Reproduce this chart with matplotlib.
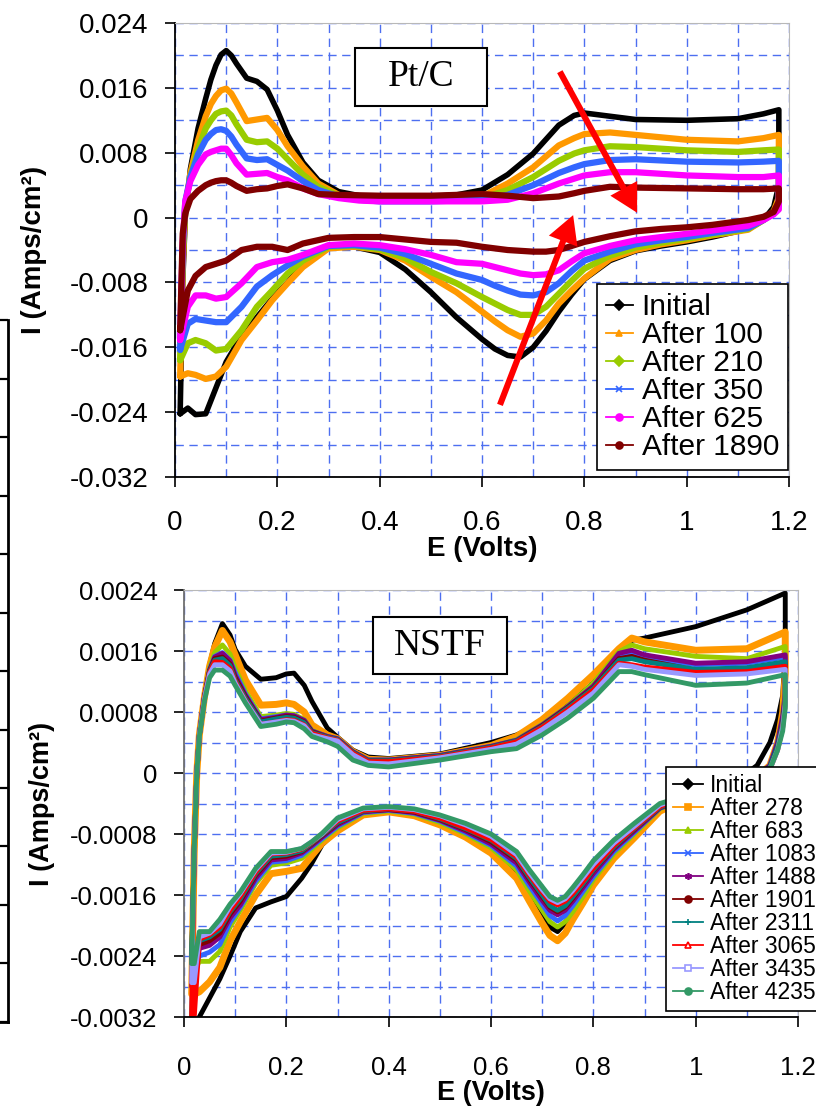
import numpy as np
import matplotlib.pyplot as plt
from matplotlib.lines import Line2D
from matplotlib.patches import Rectangle
from matplotlib.ticker import FuncFormatter, MultipleLocator

plt.rcParams['font.family'] = ['Liberation Sans', 'DejaVu Sans']
plt.rcParams['axes.unicode_minus'] = False

# ---------------- Pt/C (current in mA/cm2) ----------------
ptc_e_fwd = [0.01, 0.015, 0.02, 0.03, 0.045, 0.06, 0.07, 0.08, 0.09, 0.10, 0.11, 0.12, 0.14, 0.16, 0.18,
             0.20, 0.22, 0.25, 0.28, 0.32, 0.36, 0.40, 0.50, 0.55, 0.60, 0.65, 0.70, 0.75, 0.78, 0.80,
             0.85, 0.90, 1.00, 1.10, 1.15, 1.18]
ptc_e_rev = [1.18, 1.17, 1.15, 1.12, 1.05, 1.00, 0.95, 0.90, 0.85, 0.80, 0.775, 0.75, 0.725, 0.70, 0.675,
             0.65, 0.625, 0.60, 0.55, 0.50, 0.45, 0.40, 0.35, 0.30, 0.25, 0.22, 0.19, 0.16, 0.13, 0.10,
             0.08, 0.06, 0.04, 0.025, 0.01]

ptc_initial_fwd = [-24.2, -8, 0, 6, 11, 14.7, 17.0, 18.8, 20.1, 20.6, 20.0, 19.0, 17.2, 16.8, 15.8,
                   13.2, 10.2, 6.8, 4.6, 3.2, 2.7, 2.6, 2.6, 2.8, 3.4, 5.3, 7.9, 11.4, 12.6, 12.9,
                   12.5, 12.1, 12.0, 12.2, 12.8, 13.3]
ptc_initial_rev = [4.0, 1.3, -0.3, -1.4, -2.4, -3.0, -3.5, -4.1, -5.3, -7.6, -9.5, -11.6, -14.0, -16.0, -17.2,
                   -17.0, -16.2, -15.0, -12.3, -9.2, -6.4, -4.3, -3.6, -3.7, -5.8, -8.0, -10.0, -12.3, -14.6,
                   -17.8, -21.0, -24.2, -24.3, -23.5, -24.2]
ptc_100_fwd = [-19.6, -6, 1, 5.5, 9.5, 12.5, 14.0, 15.0, 15.7, 15.9, 15.3, 14.2, 11.9, 12.1, 12.3,
               10.8, 8.8, 6.3, 4.2, 2.8, 2.4, 2.2, 2.2, 2.3, 2.6, 4.2, 6.2, 8.9, 9.8, 10.3,
               10.5, 10.2, 9.6, 9.4, 9.8, 10.2]
ptc_100_rev = [2.5, 0.8, -0.3, -1.5, -2.2, -2.8, -3.3, -4.0, -5.1, -7.5, -9.0, -10.6, -12.7, -14.3, -14.7,
               -13.9, -12.8, -11.6, -9.2, -7.3, -5.3, -4.0, -3.6, -3.8, -6.1, -8.1, -10.2, -12.7, -15.1,
               -18.4, -19.6, -19.9, -19.4, -19.2, -19.6]
ptc_210_fwd = [-17.6, -5, 1.5, 5, 8.5, 11, 12.0, 12.8, 13.1, 13.2, 12.6, 11.5, 9.6, 9.3, 9.4,
               8.5, 7.2, 5.3, 3.8, 2.7, 2.3, 2.1, 2.1, 2.2, 2.4, 3.4, 5.0, 7.0, 7.9, 8.3,
               8.8, 8.7, 8.3, 8.1, 8.3, 8.4]
ptc_210_rev = [2.0, 0.6, -0.3, -1.4, -2.1, -2.6, -3.1, -3.7, -4.7, -6.3, -7.8, -9.4, -11.0, -12.0, -12.0,
               -11.4, -10.6, -9.8, -8.1, -6.7, -5.0, -3.9, -3.5, -3.6, -5.3, -6.9, -9.0, -11.0, -13.9,
               -16.2, -16.4, -15.5, -15.1, -15.5, -17.6]
ptc_350_fwd = [-16.3, -4, 2, 5, 7.8, 9.6, 10.3, 10.8, 10.9, 10.7, 10.0, 9.0, 7.3, 7.1, 7.2,
               6.5, 5.8, 4.5, 3.4, 2.6, 2.2, 2.0, 2.0, 2.1, 2.2, 2.8, 4.0, 5.5, 6.2, 6.6,
               7.1, 7.2, 6.9, 6.8, 6.9, 7.0]
ptc_350_rev = [1.5, 0.5, -0.3, -1.3, -1.9, -2.4, -2.8, -3.3, -4.2, -5.3, -6.6, -8.1, -9.2, -9.6, -9.5,
               -9.0, -8.4, -7.7, -6.9, -5.7, -4.5, -3.7, -3.4, -3.5, -4.8, -5.9, -7.1, -8.5, -11.0,
               -12.9, -12.9, -12.7, -12.5, -13.1, -16.3]
ptc_625_fwd = [-15.1, -3, 2, 4.5, 6.5, 7.8, 8.1, 8.3, 8.5, 8.5, 7.7, 6.7, 5.3, 5.4, 5.5,
               5.0, 4.6, 3.6, 2.9, 2.4, 2.1, 2.0, 2.0, 2.0, 2.0, 2.2, 3.0, 4.2, 4.8, 5.2,
               5.6, 5.6, 5.2, 5.0, 5.0, 5.2]
ptc_625_rev = [1.0, 0.4, -0.3, -1.0, -1.6, -2.0, -2.4, -2.8, -3.5, -4.4, -5.4, -6.5, -7.0, -7.1, -6.9,
               -6.5, -6.1, -5.7, -5.5, -4.6, -3.9, -3.4, -3.2, -3.4, -4.6, -5.2, -5.5, -6.1, -8.1,
               -9.8, -10.0, -9.6, -9.6, -11.0, -15.1]
ptc_1890_fwd = [-13.9, -2, 0.5, 2.3, 3.3, 4.0, 4.3, 4.5, 4.6, 4.6, 4.3, 3.9, 3.3, 3.5, 3.6,
                3.9, 4.1, 3.6, 2.9, 2.8, 2.75, 2.7, 2.7, 2.8, 2.9, 2.7, 2.4, 2.6, 3.0, 3.3,
                3.8, 3.7, 3.6, 3.5, 3.5, 3.6]
ptc_1890_rev = [2.0, 0.7, 0.1, -0.3, -0.9, -1.2, -1.4, -1.7, -2.3, -3.0, -3.5, -4.0, -4.2, -4.2, -4.1,
                -4.0, -3.8, -3.6, -3.1, -3.0, -2.7, -2.4, -2.4, -2.5, -3.2, -4.0, -3.6, -3.6, -4.0,
                -5.3, -5.7, -6.1, -7.2, -9.0, -13.9]

ptc_labels = ['Initial', 'After 100', 'After 210', 'After 350', 'After 625', 'After 1890']
ptc_fwd = [ptc_initial_fwd, ptc_100_fwd, ptc_210_fwd, ptc_350_fwd, ptc_625_fwd, ptc_1890_fwd]
ptc_rev = [ptc_initial_rev, ptc_100_rev, ptc_210_rev, ptc_350_rev, ptc_625_rev, ptc_1890_rev]
ptc_colors = ['black', '#FF9900', '#99CC00', '#3366FF', '#FF00FF', '#800000']
ptc_markers = ['D', '^', 'D', 'x', 'o', 'o']

# ---------------- NSTF (current in mA/cm2) ----------------
nstf_e_fwd = [0.015, 0.02, 0.025, 0.03, 0.04, 0.05, 0.06, 0.075, 0.09, 0.1, 0.12, 0.15, 0.18, 0.2, 0.215, 0.235,
              0.25, 0.28, 0.3, 0.33, 0.36, 0.4, 0.5, 0.6, 0.65, 0.7, 0.75, 0.8, 0.85, 0.875, 0.9, 1.0, 1.1, 1.175]
nstf_e_rev = [1.175, 1.17, 1.16, 1.145, 1.12, 1.08, 1.03, 0.97, 0.93, 0.88, 0.84, 0.8,
              0.78, 0.76, 0.745, 0.73, 0.715, 0.7, 0.675, 0.65,
              0.6, 0.55, 0.5, 0.45, 0.4, 0.35, 0.3, 0.27, 0.25, 0.23, 0.2, 0.17, 0.14, 0.11, 0.09, 0.07, 0.05,
              0.03, 0.02]

nstf_initial_fwd = [-3.3, -1.2, 0.0, 0.5, 1.0, 1.42, 1.7, 1.96, 1.81, 1.62, 1.4, 1.23, 1.25, 1.3, 1.31, 1.15,
                    0.94, 0.59, 0.47, 0.3, 0.21, 0.19, 0.25, 0.4, 0.5, 0.65, 0.89, 1.18, 1.55, 1.74, 1.77, 1.92,
                    2.14, 2.36]
nstf_initial_rev = [1.6, 1.02, 0.7, 0.4, 0.1, -0.1, -0.25, -0.38, -0.5, -0.85, -1.08, -1.42,
                    -1.6, -1.8, -1.97, -2.08, -2.02, -1.86, -1.58, -1.3,
                    -1.0, -0.83, -0.66, -0.55, -0.5, -0.55, -0.75, -0.94, -1.18, -1.38, -1.62, -1.69, -1.77,
                    -2.08, -2.4, -2.7, -2.95, -3.2, -3.35]
nstf_278_fwd = [-2.9, -1.0, 0.0, 0.5, 1.0, 1.4, 1.65, 1.87, 1.72, 1.55, 1.22, 0.89, 0.9, 0.92, 0.9, 0.8,
                0.63, 0.5, 0.45, 0.28, 0.18, 0.17, 0.23, 0.36, 0.48, 0.7, 0.98, 1.29, 1.63, 1.77, 1.72, 1.61,
                1.63, 1.85]
nstf_278_rev = [1.3, 0.8, 0.4, 0.1, -0.05, -0.15, -0.25, -0.38, -0.5, -0.85, -1.12, -1.47,
                -1.7, -1.92, -2.1, -2.2, -2.13, -1.97, -1.68, -1.38,
                -1.05, -0.84, -0.68, -0.56, -0.51, -0.55, -0.76, -0.92, -1.08, -1.25, -1.29, -1.32, -1.6,
                -1.95, -2.2, -2.55, -2.74, -2.87, -2.9]
nstf_683_fwd = [-2.6, -1.0, 0.0, 0.5, 1.0, 1.38, 1.58, 1.68, 1.56, 1.38, 1.08, 0.74, 0.76, 0.78, 0.77, 0.7,
                0.56, 0.48, 0.45, 0.28, 0.17, 0.17, 0.23, 0.35, 0.44, 0.64, 0.88, 1.18, 1.59, 1.68, 1.63, 1.53,
                1.50, 1.66]
nstf_683_rev = [1.1, 0.75, 0.4, 0.1, -0.05, -0.15, -0.25, -0.37, -0.47, -0.8, -1.06, -1.4,
                -1.62, -1.82, -1.95, -2.02, -1.95, -1.8, -1.55, -1.27,
                -0.98, -0.8, -0.65, -0.54, -0.5, -0.53, -0.72, -0.88, -1.0, -1.12, -1.18, -1.21, -1.45,
                -1.8, -2.02, -2.34, -2.47, -2.47, -2.6]
nstf_1083_fwd = [-2.5, -1.0, 0.0, 0.5, 1.0, 1.36, 1.53, 1.58, 1.48, 1.32, 1.04, 0.71, 0.74, 0.76, 0.75, 0.69,
                 0.55, 0.48, 0.45, 0.28, 0.17, 0.17, 0.23, 0.35, 0.43, 0.63, 0.87, 1.14, 1.55, 1.58, 1.52, 1.42,
                 1.44, 1.52]
nstf_1083_rev = [1.0, 0.7, 0.4, 0.1, -0.05, -0.15, -0.25, -0.36, -0.46, -0.78, -1.03, -1.36,
                 -1.55, -1.74, -1.87, -1.94, -1.87, -1.72, -1.48, -1.22,
                 -0.95, -0.78, -0.63, -0.53, -0.49, -0.52, -0.7, -0.86, -0.97, -1.08, -1.15, -1.17, -1.42,
                 -1.76, -1.96, -2.25, -2.35, -2.4, -2.5]
nstf_1488_fwd = [-2.8, -1.0, 0.0, 0.5, 1.0, 1.35, 1.52, 1.57, 1.47, 1.28, 1.02, 0.70, 0.73, 0.76, 0.75, 0.69,
                 0.55, 0.48, 0.45, 0.28, 0.17, 0.17, 0.23, 0.35, 0.43, 0.63, 0.87, 1.14, 1.57, 1.61, 1.55, 1.44,
                 1.46, 1.55]
nstf_1488_rev = [1.05, 0.75, 0.4, 0.1, -0.05, -0.15, -0.25, -0.36, -0.46, -0.76, -1.0, -1.32,
                 -1.5, -1.68, -1.8, -1.86, -1.8, -1.67, -1.43, -1.18,
                 -0.93, -0.76, -0.62, -0.52, -0.48, -0.51, -0.68, -0.84, -0.95, -1.05, -1.12, -1.14, -1.38,
                 -1.73, -1.9, -2.15, -2.26, -2.3, -2.8]
nstf_1901_fwd = [-2.5, -1.0, 0.0, 0.5, 1.0, 1.34, 1.5, 1.52, 1.43, 1.25, 1.0, 0.68, 0.72, 0.74, 0.73, 0.67,
                 0.54, 0.47, 0.44, 0.27, 0.16, 0.16, 0.22, 0.34, 0.42, 0.62, 0.86, 1.12, 1.50, 1.53, 1.48, 1.35,
                 1.37, 1.44]
nstf_1901_rev = [0.95, 0.65, 0.35, 0.08, -0.05, -0.15, -0.25, -0.35, -0.45, -0.74, -0.98, -1.28,
                 -1.46, -1.64, -1.76, -1.82, -1.76, -1.62, -1.39, -1.14,
                 -0.9, -0.74, -0.61, -0.51, -0.48, -0.5, -0.66, -0.82, -0.93, -1.03, -1.09, -1.11, -1.34,
                 -1.68, -1.85, -2.1, -2.2, -2.25, -2.5]
nstf_2311_fwd = [-2.4, -1.0, 0.0, 0.5, 1.0, 1.33, 1.48, 1.5, 1.41, 1.22, 0.98, 0.67, 0.71, 0.73, 0.72, 0.66,
                 0.53, 0.47, 0.44, 0.27, 0.16, 0.16, 0.22, 0.34, 0.42, 0.61, 0.85, 1.11, 1.48, 1.50, 1.46, 1.36,
                 1.38, 1.46]
nstf_2311_rev = [0.95, 0.65, 0.35, 0.08, -0.05, -0.15, -0.25, -0.35, -0.45, -0.73, -0.97, -1.27,
                 -1.45, -1.62, -1.74, -1.8, -1.74, -1.6, -1.37, -1.12,
                 -0.88, -0.73, -0.6, -0.5, -0.47, -0.5, -0.65, -0.81, -0.92, -1.02, -1.07, -1.09, -1.32,
                 -1.65, -1.82, -2.05, -2.15, -2.2, -2.4]
nstf_3065_fwd = [-3.2, -1.0, 0.0, 0.5, 1.0, 1.32, 1.46, 1.45, 1.37, 1.2, 0.95, 0.64, 0.67, 0.70, 0.69, 0.63,
                 0.52, 0.46, 0.43, 0.26, 0.15, 0.15, 0.21, 0.33, 0.41, 0.6, 0.83, 1.09, 1.44, 1.42, 1.39, 1.32,
                 1.33, 1.40]
nstf_3065_rev = [0.9, 0.6, 0.3, 0.05, -0.05, -0.15, -0.25, -0.34, -0.44, -0.72, -0.95, -1.25,
                 -1.42, -1.58, -1.68, -1.73, -1.68, -1.56, -1.34, -1.1,
                 -0.87, -0.72, -0.59, -0.5, -0.47, -0.49, -0.63, -0.8, -0.91, -1.0, -1.05, -1.06, -1.3,
                 -1.62, -1.8, -2.02, -2.12, -2.18, -3.2]
nstf_3435_fwd = [-2.75, -1.0, 0.0, 0.5, 0.98, 1.3, 1.42, 1.42, 1.34, 1.18, 0.94, 0.64, 0.67, 0.69, 0.68, 0.62,
                 0.5, 0.45, 0.42, 0.24, 0.13, 0.12, 0.2, 0.31, 0.38, 0.57, 0.8, 1.05, 1.42, 1.40, 1.36, 1.28,
                 1.30, 1.36]
nstf_3435_rev = [0.9, 0.6, 0.3, 0.05, -0.05, -0.15, -0.25, -0.33, -0.42, -0.7, -0.92, -1.2,
                 -1.37, -1.54, -1.65, -1.7, -1.65, -1.53, -1.31, -1.07,
                 -0.83, -0.68, -0.56, -0.48, -0.45, -0.47, -0.61, -0.8, -0.9, -0.99, -1.04, -1.05, -1.27,
                 -1.58, -1.75, -1.98, -2.1, -2.15, -2.75]
nstf_4235_fwd = [-2.5, -1.0, 0.0, 0.48, 0.95, 1.25, 1.35, 1.35, 1.27, 1.15, 0.92, 0.61, 0.64, 0.67, 0.66, 0.58,
                 0.48, 0.41, 0.35, 0.17, 0.1, 0.08, 0.17, 0.28, 0.32, 0.5, 0.72, 0.98, 1.33, 1.33, 1.29, 1.15,
                 1.18, 1.29]
nstf_4235_rev = [0.85, 0.55, 0.3, 0.05, -0.05, -0.15, -0.25, -0.32, -0.4, -0.66, -0.88, -1.15,
                 -1.33, -1.5, -1.62, -1.67, -1.62, -1.49, -1.27, -1.03,
                 -0.8, -0.66, -0.55, -0.47, -0.44, -0.46, -0.59, -0.79, -0.9, -0.99, -1.03, -1.03, -1.25,
                 -1.56, -1.72, -1.92, -2.08, -2.08, -2.5]

nstf_labels = ['Initial', 'After 278', 'After 683', 'After 1083', 'After 1488', 'After 1901',
               'After 2311', 'After 3065', 'After 3435', 'After 4235']
nstf_fwd = [nstf_initial_fwd, nstf_278_fwd, nstf_683_fwd, nstf_1083_fwd, nstf_1488_fwd, nstf_1901_fwd,
            nstf_2311_fwd, nstf_3065_fwd, nstf_3435_fwd, nstf_4235_fwd]
nstf_rev = [nstf_initial_rev, nstf_278_rev, nstf_683_rev, nstf_1083_rev, nstf_1488_rev, nstf_1901_rev,
            nstf_2311_rev, nstf_3065_rev, nstf_3435_rev, nstf_4235_rev]
nstf_colors = ['black', '#FF9900', '#99CC00', '#3366FF', '#800080', '#800000',
               '#008080', '#FF0000', '#9999FF', '#339966']
nstf_markers = ['D', 's', '^', 'x', (6, 2, 0), 'o', '+', '^', 's', 'o']
nstf_open = [False, False, False, False, False, False, False, True, True, False]

ptc_yticks = [-0.032, -0.024, -0.016, -0.008, 0, 0.008, 0.016, 0.024]
nstf_yticks = [-0.0032, -0.0024, -0.0016, -0.0008, 0, 0.0008, 0.0016, 0.0024]
e_ticks = [0, 0.2, 0.4, 0.6, 0.8, 1.0, 1.2]

grid_color = '#4d6ff0'
fmt = FuncFormatter(lambda v, p: '%g' % round(v, 6))


def style_axes(ax, yticks, tick_fs, label_fs, xpad):
    ax.set_xlim(0, 1.2)
    ax.set_ylim(yticks[0], yticks[-1])
    ax.set_xticks(e_ticks)
    ax.set_yticks(yticks)
    ax.xaxis.set_minor_locator(MultipleLocator(0.1))
    ax.yaxis.set_minor_locator(MultipleLocator((yticks[1] - yticks[0]) / 2))
    ax.xaxis.set_major_formatter(fmt)
    ax.yaxis.set_major_formatter(fmt)
    ax.grid(which='both', color=grid_color, ls=(0, (6, 4)), lw=1.0)
    ax.set_axisbelow(True)
    ax.tick_params(which='minor', length=0)
    ax.tick_params(axis='y', which='major', direction='out', length=7, width=1.2,
                   labelsize=tick_fs, pad=12)
    ax.tick_params(axis='x', which='major', direction='out', length=7, width=1.2,
                   labelsize=tick_fs, pad=xpad)
    for s in ['top', 'right']:
        ax.spines[s].set_color('#b8b8b8')
    for s in ['left', 'bottom']:
        ax.spines[s].set_color('black')
        ax.spines[s].set_linewidth(1.3)
    ax.set_xlabel('E (Volts)', fontsize=label_fs, fontweight='bold')
    ax.set_ylabel('I (Amps/cm²)', fontsize=label_fs, fontweight='bold')


fig = plt.figure(figsize=(8.16, 11.07), dpi=100)

# fragment of a neighbouring panel on the left edge
ax0 = fig.add_axes([-0.2, 0.0768, 0.2098, 0.6341])
ax0.set_xlim(0, 1)
ax0.set_ylim(0, 12)
ax0.set_yticks(range(13))
ax0.set_xticks([])
ax0.yaxis.tick_right()
ax0.tick_params(axis='y', direction='in', length=7, width=1.6, labelright=False)
for s in ['top', 'left']:
    ax0.spines[s].set_visible(False)
for s in ['right', 'bottom']:
    ax0.spines[s].set_linewidth(2)
ax0.patch.set_alpha(0)

# ---------------- top panel: Pt/C ----------------
ax1 = fig.add_axes([0.2145, 0.5691, 0.7525, 0.4101])
for i in range(len(ptc_labels)):
    e = ptc_e_fwd + ptc_e_rev
    cur = np.array(ptc_fwd[i] + ptc_rev[i]) / 1000
    ax1.plot(e, cur, color=ptc_colors[i], lw=4.5 if i else 4,
             solid_joinstyle='round', solid_capstyle='round')
style_axes(ax1, ptc_yticks, 20, 20, 17)
ax1.yaxis.set_label_coords(-0.208, 0.5)
ax1.xaxis.set_label_coords(0.5, -0.13)

ax1.add_patch(Rectangle((0.2932, 0.8172), 0.215, 0.1278, transform=ax1.transAxes,
                        facecolor='white', edgecolor='black', lw=1.5, zorder=5))
ax1.text(0.4007, 0.881, 'Pt/C', transform=ax1.transAxes, ha='center', va='center',
         fontsize=27, family='Liberation Serif', zorder=6)

arrow_style = 'simple,head_length=1.0,head_width=1.1,tail_width=0.22'
ax1.annotate('', xy=(0.903, 0.0006), xytext=(0.752, 0.0180),
             arrowprops=dict(arrowstyle=arrow_style, color='#FF0000', lw=0,
                             mutation_scale=20, shrinkA=0, shrinkB=0), zorder=7)
ax1.annotate('', xy=(0.778, 0.0003), xytext=(0.635, -0.0231),
             arrowprops=dict(arrowstyle=arrow_style, color='#FF0000', lw=0,
                             mutation_scale=20, shrinkA=0, shrinkB=0), zorder=7)

h1 = [Line2D([], [], color=c, lw=1.3, marker=m, ms=5, mew=1.2)
      for c, m in zip(ptc_colors, ptc_markers)]
leg1 = ax1.legend(h1, ptc_labels, loc='lower right', bbox_to_anchor=(0.998, 0.015),
                  borderaxespad=0, fontsize=21.5, frameon=True, fancybox=False,
                  edgecolor='black', framealpha=1, handlelength=0.9, handletextpad=0.3,
                  labelspacing=0.0, borderpad=0.3)
leg1.get_frame().set_linewidth(1.2)
leg1.set_zorder(8)

# ---------------- bottom panel: NSTF ----------------
ax2 = fig.add_axes([0.2255, 0.0813, 0.7525, 0.3857])
for i in range(len(nstf_labels)):
    e = nstf_e_fwd + nstf_e_rev
    cur = np.array(nstf_fwd[i] + nstf_rev[i]) / 1000
    ax2.plot(e, cur, color=nstf_colors[i], lw=5 if i == 1 else 3.5,
             solid_joinstyle='round', solid_capstyle='round')
style_axes(ax2, nstf_yticks, 18.5, 19.5, 21)
ax2.spines['left'].set_color('#707070')
ax2.yaxis.set_label_coords(-0.21, 0.5)
ax2.xaxis.set_label_coords(0.5, -0.147)

ax2.add_patch(Rectangle((0.3078, 0.8033), 0.2182, 0.1335, transform=ax2.transAxes,
                        facecolor='white', edgecolor='black', lw=1.5, zorder=5))
ax2.text(0.417, 0.870, 'NSTF', transform=ax2.transAxes, ha='center', va='center',
         fontsize=27, family='Liberation Serif', zorder=6)

h2 = [Line2D([], [], color=c, lw=1.3, marker=m, ms=5, mew=1.2,
             mfc='white' if o else c)
      for c, m, o in zip(nstf_colors, nstf_markers, nstf_open)]
leg2 = ax2.legend(h2, nstf_labels, loc='upper left', bbox_to_anchor=(0.785, 0.5855),
                  borderaxespad=0, fontsize=16.5, frameon=True, fancybox=False,
                  edgecolor='black', framealpha=1, handlelength=1.3, handletextpad=0.3,
                  labelspacing=0.0, borderpad=0.3)
leg2.get_frame().set_linewidth(1.2)
leg2.set_zorder(8)

fig.savefig('out.png', dpi=100)
